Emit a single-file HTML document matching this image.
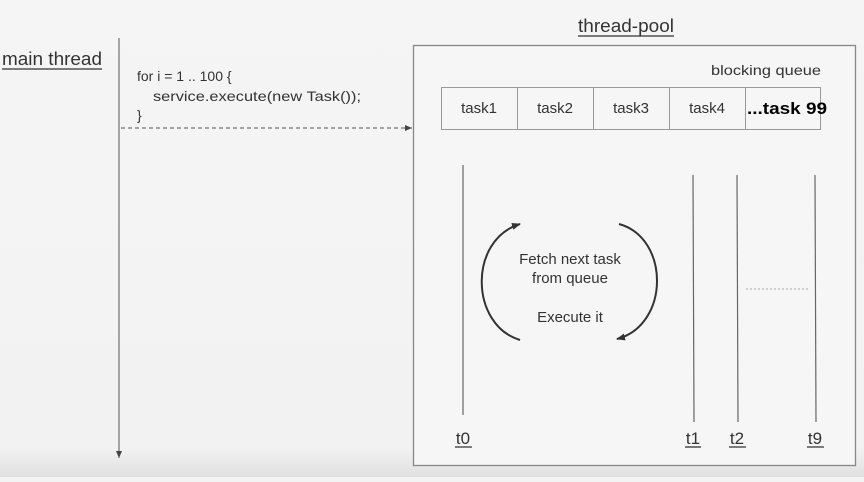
<!DOCTYPE html>
<html><head><style>
body{margin:0;width:864px;height:477px;overflow:hidden;background:#f3f3f3;font-family:"Liberation Sans",sans-serif;}
</style></head><body>
<svg width="864" height="477" xmlns="http://www.w3.org/2000/svg" font-family="Liberation Sans, sans-serif">
<defs>
<linearGradient id="g" x1="0" y1="0" x2="0" y2="1"><stop offset="0" stop-color="#f5f5f5"/><stop offset="0.94" stop-color="#f2f2f2"/><stop offset="1" stop-color="#e0e0e0"/></linearGradient>
<marker id="a" markerWidth="10" markerHeight="10" refX="8" refY="5" orient="auto" markerUnits="userSpaceOnUse"><path d="M0,1.5 L9,5 L0,8.5z" fill="#333"/></marker>
<marker id="s" markerWidth="8" markerHeight="8" refX="7" refY="4" orient="auto" markerUnits="userSpaceOnUse"><path d="M0,1 L7,4 L0,7z" fill="#444"/></marker>
</defs>
<rect width="864" height="477" fill="url(#g)"/>
<text x="2" y="65" font-size="18" fill="#333" textLength="100" lengthAdjust="spacingAndGlyphs">main thread</text>
<line x1="2" y1="69" x2="102" y2="69" stroke="#333" stroke-width="1.3"/>
<line x1="119" y1="38" x2="119" y2="458" stroke="#555" marker-end="url(#s)"/>
<text font-size="14" fill="#333"><tspan x="137" y="81">for i = 1 .. 100 {</tspan><tspan x="153" y="101" textLength="208" lengthAdjust="spacingAndGlyphs">service.execute(new Task());</tspan><tspan x="137" y="120">}</tspan></text>
<line x1="121" y1="128" x2="412" y2="128" stroke="#555" stroke-dasharray="4,3" marker-end="url(#s)"/>
<text x="578" y="32" font-size="18" fill="#333" textLength="96" lengthAdjust="spacingAndGlyphs">thread-pool</text>
<line x1="578" y1="36" x2="674" y2="36" stroke="#333" stroke-width="1.3"/>
<rect x="413.5" y="45.5" width="442" height="420" fill="#f6f6f6" stroke="#888" stroke-width="1.3"/>
<text x="711" y="75" font-size="14" fill="#333" textLength="110" lengthAdjust="spacingAndGlyphs">blocking queue</text>
<g stroke="#999" fill="none"><rect x="441.5" y="87.5" width="379" height="42"/>
<line x1="517.5" y1="87" x2="517.5" y2="130"/><line x1="593.5" y1="87" x2="593.5" y2="130"/><line x1="669.5" y1="87" x2="669.5" y2="130"/><line x1="745.5" y1="87" x2="745.5" y2="130"/></g>
<g font-size="15" fill="#333" text-anchor="middle"><text x="479" y="113">task1</text><text x="555" y="113">task2</text><text x="631" y="113">task3</text><text x="707" y="113">task4</text></g>
<text x="747" y="114" font-size="17" font-weight="bold" fill="#000" textLength="80" lengthAdjust="spacingAndGlyphs">...task 99</text>
<g stroke="#666" stroke-width="1.2"><line x1="463" y1="165" x2="463" y2="415"/><line x1="693" y1="175" x2="694" y2="422"/><line x1="737" y1="175" x2="738" y2="422"/><line x1="815" y1="175" x2="816" y2="422"/></g>
<line x1="746" y1="289" x2="809" y2="289" stroke="#aaa" stroke-dasharray="2,2"/>
<path d="M520,340 C470,325 468,240 520,224" fill="none" stroke="#333" stroke-width="2" marker-end="url(#a)"/>
<path d="M619,224 C670,238 670,325 617,339" fill="none" stroke="#333" stroke-width="2" marker-end="url(#a)"/>
<g font-size="15" fill="#333" text-anchor="middle"><text x="570" y="264">Fetch next task</text><text x="570" y="283">from queue</text><text x="570" y="322">Execute it</text></g>
<g font-size="17" fill="#333" text-anchor="middle"><text x="463" y="444">t0</text><text x="693" y="444">t1</text><text x="737" y="444">t2</text><text x="815" y="444">t9</text></g>
<g stroke="#333" stroke-width="1.3"><line x1="455" y1="447" x2="472" y2="447"/><line x1="685" y1="447" x2="701" y2="447"/><line x1="729" y1="447" x2="746" y2="447"/><line x1="807" y1="447" x2="824" y2="447"/></g>
</svg>
</body></html>
